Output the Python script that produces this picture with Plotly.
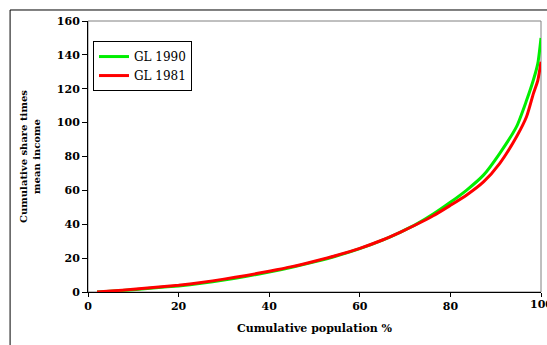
import plotly.graph_objects as go

pop = [2, 5, 10, 15, 20, 25, 30, 35, 40, 45, 50, 55, 60, 65, 69, 72.6, 76.2, 79.9, 83.6, 87.3, 90.9, 94.6, 96.8, 98.3, 99.3, 100]
gl1990 = [0, 0.5, 1.4, 2.5, 3.6, 5.1, 7.0, 9.3, 11.8, 14.6, 17.8, 21.4, 25.6, 30.6, 35.4, 40.2, 46.0, 52.8, 60.2, 69.0, 81.9, 97.6, 113, 125, 135, 150]
gl1981 = [0, 0.6, 1.6, 2.8, 4.0, 5.6, 7.6, 9.8, 12.3, 15.0, 18.2, 21.7, 25.8, 30.7, 35.4, 40.0, 45.0, 51.0, 57.3, 65.0, 76.0, 91.7, 103.5, 117, 125, 136]

x_ticks = [0, 20, 40, 60, 80, 100]
x_labels = ["0", "20", "40", "60", "80", ""]
y_ticks = [0, 20, 40, 60, 80, 100, 120, 140, 160]

fig = go.Figure()
fig.add_trace(go.Scatter(x=pop, y=gl1990, mode="lines", name="GL 1990",
                         line=dict(color="#00ee00", width=3, shape="spline", smoothing=0.6)))
fig.add_trace(go.Scatter(x=pop, y=gl1981, mode="lines", name="GL 1981",
                         line=dict(color="#ff0000", width=3, shape="spline", smoothing=0.6)))

tickfont = dict(family="DejaVu Serif", size=11, color="black", weight="bold")
fig.update_layout(
    width=547, height=345,
    margin=dict(l=88, r=6, t=21, b=53),
    paper_bgcolor="white", plot_bgcolor="white",
    showlegend=True,
    legend=dict(x=0.011, y=0.926, xanchor="left", yanchor="top",
                bgcolor="white", bordercolor="black", borderwidth=1,
                font=dict(family="DejaVu Serif", size=12, color="black"),
                tracegroupgap=0),
    xaxis=dict(range=[0, 100], tickvals=x_ticks, ticktext=x_labels, ticks="outside", ticklen=4,
               tickcolor="black", showline=True, linecolor="black", linewidth=1,
               showgrid=False, zeroline=False, tickfont=tickfont,
               title=dict(text="Cumulative population %", standoff=12,
                          font=dict(family="DejaVu Serif", size=11, color="black", weight="bold"))),
    yaxis=dict(range=[0, 160], tickvals=y_ticks, ticks="outside", ticklen=5,
               tickcolor="black", showline=True, linecolor="black", linewidth=1,
               showgrid=False, zeroline=False, tickfont=tickfont,
               title=dict(text="Cumulative share times<br>mean income", standoff=14,
                          font=dict(family="DejaVu Serif", size=10, color="black", weight="bold"))),
    annotations=[
        dict(text="100", x=100, xref="x", y=0, yref="paper", yanchor="top",
             xanchor="center", yshift=-4, showarrow=False, font=tickfont),
    ],
    shapes=[
        dict(type="rect", xref="paper", yref="paper", x0=0, y0=0, x1=1, y1=1,
             line=dict(color="gray", width=1), layer="below"),
        dict(type="rect", xref="paper", yref="paper", x0=-0.172, y0=-0.3, x1=1.2, y1=1.0406,
             line=dict(color="black", width=1), layer="below"),
    ],
)

fig.write_html("out.html")
